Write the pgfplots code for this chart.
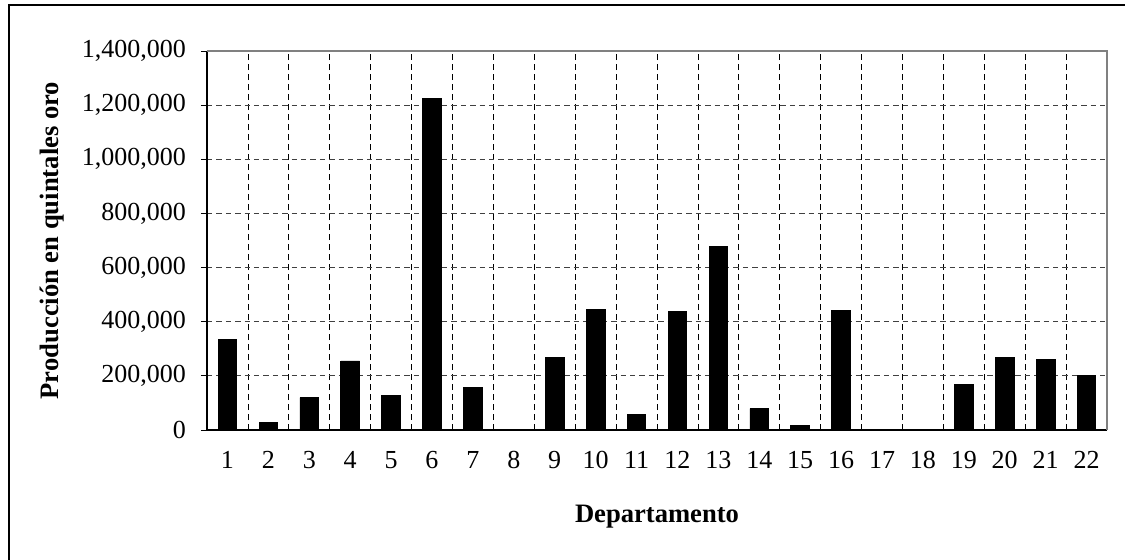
\documentclass[border=0pt]{standalone}
\usepackage{fontspec}
\setmainfont{Liberation Serif}
\usepackage{pgfplots}
\pgfplotsset{compat=1.18}
\begin{document}
\begin{tikzpicture}
\useasboundingbox (0,0) rectangle (562.5pt,279.5pt);
\draw[line width=0.6pt] (4.5pt,-5pt) -- (4.5pt,277pt) -- (570pt,277pt);
\begin{axis}[
  at={(103.5pt,64.5pt)}, anchor=south west,
  width=450pt, height=189.5pt, scale only axis,
  xmin=0.5, xmax=22.5, ymin=0, ymax=1400000,
  axis lines*=left, axis line style={-, line width=0.6pt},
  ybar, bar width=9.35pt,
  xtick={1,...,22}, x tick style={draw=none},
  minor xtick={0.5,1.5,...,22.5},
  xminorgrids=true, ymajorgrids=true,
  minor x grid style={black, dash pattern=on 3pt off 2pt, line width=0.4pt},
  major y grid style={black!75, dash pattern=on 2.7pt off 2pt, line width=0.5pt},
  ytick={0,200000,...,1400000},
  tick align=outside, major tick length=3pt, minor tick length=3pt,
  every tick/.style={black, line width=0.5pt},
  scaled y ticks=false,
  yticklabel style={/pgf/number format/.cd, fixed, 1000 sep={,}, assume math mode=true},
  xticklabel style={/pgf/number format/assume math mode=true},
  tick label style={font=\fontsize{13}{15}\selectfont},
  xticklabel shift=4pt, yticklabel shift=4pt,
  xlabel={Departamento}, ylabel={Producción en quintales oro},
  label style={font=\fontsize{13.3}{15}\selectfont\bfseries},
  xlabel style={at={(axis description cs:0.5,-0.2296)}, anchor=center},
  ylabel style={at={(axis description cs:-0.1722,0.5)}, anchor=center},
  clip=false,
]
\addplot[fill=black, draw=black] coordinates {
(1,334000) (2,28300) (3,119500) (4,255000) (5,127000) (6,1223800)
(7,156500) (8,0) (9,267400) (10,444900) (11,57900) (12,438700)
(13,679000) (14,78900) (15,17300) (16,441200) (17,0) (18,0)
(19,168800) (20,268700) (21,260000) (22,200900)
};
\draw[gray, line width=0.8pt] (rel axis cs:0,1) -- (rel axis cs:1,1) -- (rel axis cs:1,0);
\end{axis}
\end{tikzpicture}
\end{document}
